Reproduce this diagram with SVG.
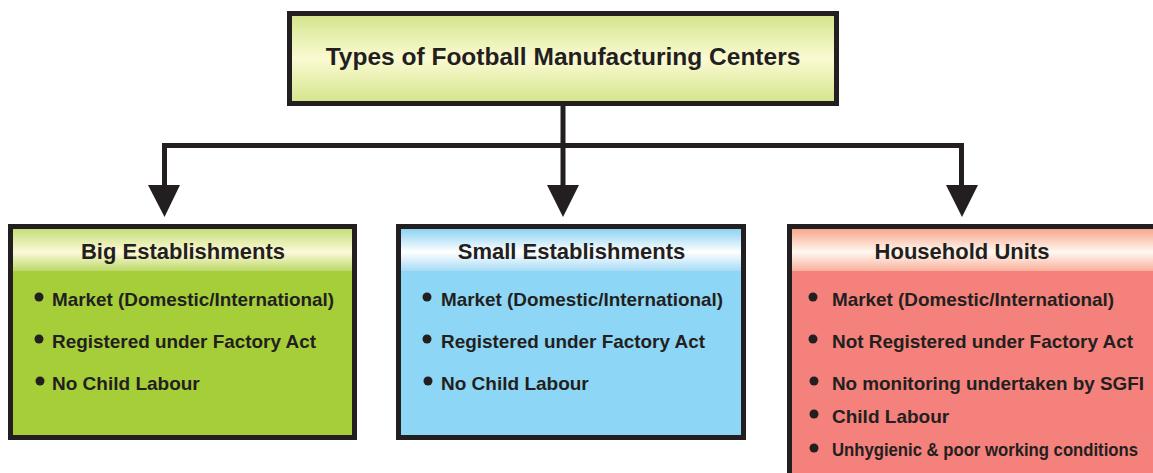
<svg xmlns="http://www.w3.org/2000/svg" width="1153" height="473" viewBox="0 0 1153 473">
<defs>
<linearGradient id="gTitle" x1="0" y1="0" x2="0" y2="1">
<stop offset="0" stop-color="#d2e48a"/><stop offset="0.5" stop-color="#fbfad2"/><stop offset="1" stop-color="#d3e48a"/>
</linearGradient>
<linearGradient id="gGreen" x1="0" y1="0" x2="0" y2="1">
<stop offset="0" stop-color="#c4df78"/><stop offset="0.55" stop-color="#fdf9d8"/><stop offset="1" stop-color="#bcd96a"/>
</linearGradient>
<linearGradient id="gBlue" x1="0" y1="0" x2="0" y2="1">
<stop offset="0" stop-color="#8dd2f3"/><stop offset="0.55" stop-color="#ffffff"/><stop offset="1" stop-color="#a6dbf5"/>
</linearGradient>
<linearGradient id="gRed" x1="0" y1="0" x2="0" y2="1">
<stop offset="0" stop-color="#f8a68d"/><stop offset="0.55" stop-color="#fff8f0"/><stop offset="1" stop-color="#f9b09c"/>
</linearGradient>
</defs>
<style>
.bx{stroke:#231f20;stroke-width:5}
.t{font-family:"Liberation Sans",Arial,sans-serif;font-weight:bold;fill:#231f20}
.title{font-size:24.5px}
.hd{font-size:22px}
.it{font-size:19px}
.sm{font-size:17.5px}
.dot{fill:#231f20}
.ln{fill:none;stroke:#231f20;stroke-width:5}
.ah{fill:#231f20}
</style>
<rect width="1153" height="473" fill="#ffffff"/>

<g id="connectors">
<path class="ln" d="M164.5,188 V145.5 H961.5 V188"/>
<path class="ln" d="M563,106 V188"/>
<polygon class="ah" points="148,185 180,185 164.5,217"/>
<polygon class="ah" points="547,185 579,185 563,217"/>
<polygon class="ah" points="946,185 978,185 962,217"/>
</g>

<g id="title">
<rect class="bx" x="289.5" y="13.5" width="547" height="90" fill="url(#gTitle)"/>
<text class="t title" x="563" y="65" text-anchor="middle">Types of Football Manufacturing Centers</text>
</g>

<g id="big">
<rect class="bx" x="10.5" y="226.5" width="344" height="211" fill="#a6ce39"/>
<rect x="13" y="229" width="339" height="42" fill="url(#gGreen)"/>
<text class="t hd" x="183" y="259" text-anchor="middle">Big Establishments</text>
<circle class="dot" cx="39" cy="297" r="4.5"/>
<text class="t it" x="52" y="306" textLength="282" lengthAdjust="spacingAndGlyphs">Market (Domestic/International)</text>
<circle class="dot" cx="39" cy="339" r="4.5"/>
<text class="t it" x="52" y="348" textLength="264" lengthAdjust="spacingAndGlyphs">Registered under Factory Act</text>
<circle class="dot" cx="40" cy="381" r="4.5"/>
<text class="t it" x="52" y="390">No Child Labour</text>
</g>

<g id="small">
<rect class="bx" x="398.5" y="226.5" width="345" height="211" fill="#8ed6f5"/>
<rect x="401" y="229" width="340" height="42" fill="url(#gBlue)"/>
<text class="t hd" x="571.5" y="259" text-anchor="middle">Small Establishments</text>
<circle class="dot" cx="427" cy="297" r="4.5"/>
<text class="t it" x="441" y="306" textLength="282" lengthAdjust="spacingAndGlyphs">Market (Domestic/International)</text>
<circle class="dot" cx="427" cy="339" r="4.5"/>
<text class="t it" x="441" y="348" textLength="264" lengthAdjust="spacingAndGlyphs">Registered under Factory Act</text>
<circle class="dot" cx="428" cy="381" r="4.5"/>
<text class="t it" x="441" y="390">No Child Labour</text>
</g>

<g id="household">
<rect class="bx" x="789.5" y="226.5" width="380" height="260" fill="#f4817b"/>
<rect x="792" y="229" width="370" height="42" fill="url(#gRed)"/>
<text class="t hd" x="962" y="259" text-anchor="middle">Household Units</text>
<circle class="dot" cx="813" cy="297" r="4.5"/>
<text class="t it" x="832" y="306" textLength="282" lengthAdjust="spacingAndGlyphs">Market (Domestic/International)</text>
<circle class="dot" cx="813" cy="339" r="4.5"/>
<text class="t it" x="832" y="348" textLength="301" lengthAdjust="spacingAndGlyphs">Not Registered under Factory Act</text>
<circle class="dot" cx="814" cy="381" r="4.5"/>
<text class="t it" x="832" y="390" textLength="312" lengthAdjust="spacingAndGlyphs">No monitoring undertaken by SGFI</text>
<circle class="dot" cx="814" cy="414" r="4.5"/>
<text class="t it" x="832" y="423">Child Labour</text>
<circle class="dot" cx="814" cy="448" r="4.5"/>
<text class="t sm" x="832" y="456" textLength="306" lengthAdjust="spacingAndGlyphs">Unhygienic &amp; poor working conditions</text>
</g>
</svg>
